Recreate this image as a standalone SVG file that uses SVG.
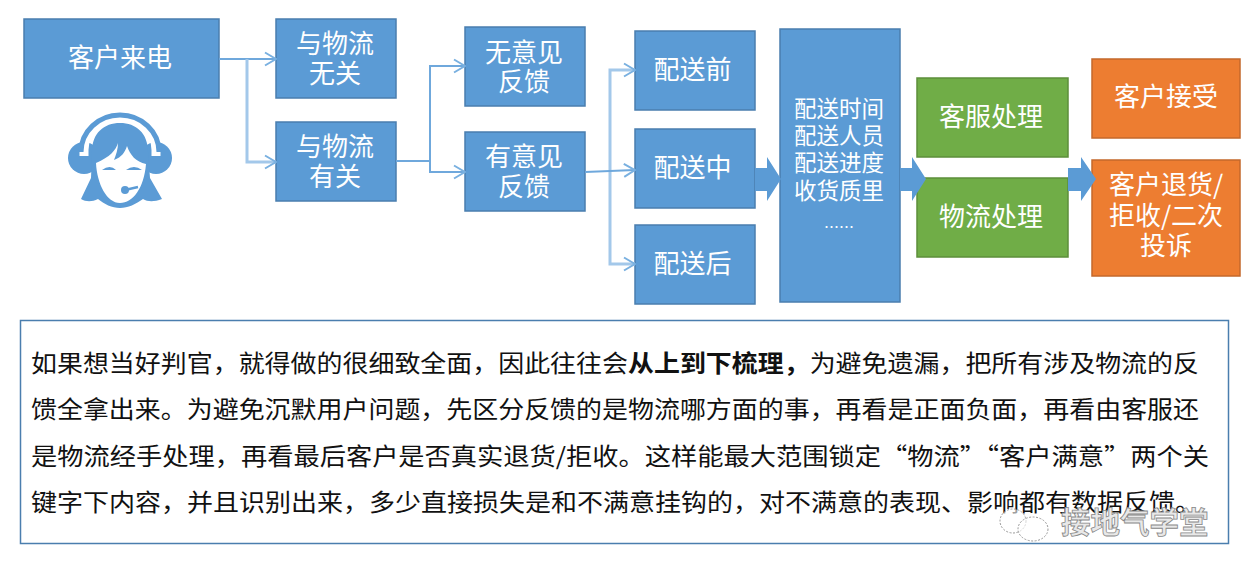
<svg xmlns="http://www.w3.org/2000/svg" width="1246" height="561" viewBox="0 0 1246 561">
<style>
text{font-family:"Noto Sans CJK SC","Liberation Sans",sans-serif}
.b{fill:#5b9bd5;stroke:#4a7eae;stroke-width:1.5}
.g{fill:#70ad47;stroke:#5c8f3a;stroke-width:1.5}
.o{fill:#ed7d31;stroke:#c4682b;stroke-width:1.5}
.n text{fill:#fff;font-size:26px;text-anchor:middle}
.n .s{font-size:22.5px}
.c{fill:none;stroke:#6fa8dc;stroke-width:2}
.l{fill:none;stroke:#a3c8ea;stroke-width:3}
.f{fill:#5b9bd5}
.p text{font-size:24px;fill:#111}
</style>
<defs>
<marker id="a" markerUnits="userSpaceOnUse" markerWidth="14" markerHeight="16" refX="13" refY="8" orient="auto"><path d="M2 1.500L13 8L2 14.500" fill="none" stroke="#79b0e0" stroke-width="2"/></marker>
</defs>
<rect width="1246" height="561" fill="#fff"/>
<g id="n1" class="n"><rect class="b" x="24" y="19" width="195" height="79"/><text x="120" y="67">客户来电</text></g>
<g id="agent">
<ellipse cx="84" cy="158" rx="16" ry="16" class="f"/><ellipse cx="156" cy="158" rx="16" ry="16" class="f"/>
<path d="M84 156V150A36 33 0 0 1 156 150V156" fill="none" stroke="#fff" stroke-width="9"/>
<path d="M81 152A39 37 0 0 1 159 152" fill="none" stroke="#5b9bd5" stroke-width="5"/>
<path class="f" d="M92 152C92 133 104 123 120 123C136 123 148 133 148 152L150 178L162 199C154 202 148 202 143 199C136 204 128 208 120 208C112 208 104 204 98 199C92 202 86 202 81 199L91 178Z" stroke="#fff" stroke-width="0"/>
<path fill="#fff" d="M118 143C116 150 110 157 96 163C97 184 107 203 120 203C133 203 144 188 146 164C136 162 130 155 127 146C125 152 122 157 114 160C116 155 118 149 118 143Z"/>
<path class="f" d="M102 170Q110 164 116 170ZM126 170Q134 164 142 170Z"/>
<path d="M125 190L138 187" stroke="#5b9bd5" stroke-width="2.500" fill="none"/><circle cx="125" cy="190" r="4" class="f"/>
</g>
<g id="n2" class="n"><rect class="b" x="276" y="19" width="120" height="79"/><text x="335" y="53">与物流<tspan x="335" y="83">无关</tspan></text></g>
<g id="n3" class="n"><rect class="b" x="276" y="122" width="120" height="79"/><text x="335" y="156">与物流<tspan x="335" y="186">有关</tspan></text></g>
<g id="n4" class="n"><rect class="b" x="465" y="27" width="120" height="79"/><text x="524" y="62">无意见<tspan x="524" y="91">反馈</tspan></text></g>
<g id="n5" class="n"><rect class="b" x="465" y="132" width="120" height="79"/><text x="524" y="166">有意见<tspan x="524" y="196">反馈</tspan></text></g>
<g id="n6" class="n"><rect class="b" x="635" y="31" width="120" height="79"/><text x="692.500" y="79">配送前</text></g>
<g id="n7" class="n"><rect class="b" x="635" y="129" width="120" height="79"/><text x="692.500" y="177">配送中</text></g>
<g id="n8" class="n"><rect class="b" x="635" y="225" width="120" height="79"/><text x="692.500" y="273">配送后</text></g>
<g id="n9" class="n"><rect class="b" x="780" y="29" width="120" height="273"/>
<text class="s" x="839" y="117">配送时间<tspan x="839" y="144">配送人员</tspan><tspan x="839" y="171">配送进度</tspan><tspan x="839" y="199">收货质里</tspan><tspan x="839" y="233" style="font-size:15px">……</tspan></text></g>
<g id="n10" class="n"><rect class="g" x="917" y="78" width="151" height="79"/><text x="991" y="126">客服处理</text></g>
<g id="n11" class="n"><rect class="g" x="917" y="178" width="151" height="79"/><text x="991" y="226">物流处理</text></g>
<g id="n12" class="n"><rect class="o" x="1092" y="59" width="148" height="79"/><text x="1166" y="106">客户接受</text></g>
<g id="n13" class="n"><rect class="o" x="1092" y="160" width="148" height="116"/><text x="1166" y="194">客户退货/<tspan x="1166" y="225">拒收/二次</tspan><tspan x="1166" y="255">投诉</tspan></text></g>
<g id="connectors">
<path class="c" d="M219 59H276" marker-end="url(#a)"/>
<path class="l" d="M247 59V162H276" marker-end="url(#a)"/>
<path class="c" d="M396 161H430V66H465" marker-end="url(#a)"/>
<path class="c" d="M430 161V172H465" marker-end="url(#a)"/>
<path class="l" d="M610 171V70H635" marker-end="url(#a)"/>
<path class="l" d="M610 171V264H635" marker-end="url(#a)"/>
<path class="c" d="M585 172L635 170" marker-end="url(#a)"/>
<path class="f" d="M755 168H767V157L781 179L767 201V191H755Z"/>
<path class="f" d="M900 168H912V157L926 179L912 201V191H900Z"/>
<path class="f" d="M1068 168H1081V157L1096 179L1081 201V191H1068Z"/>
</g>
<g id="note" class="p">
<rect x="20.500" y="320.500" width="1208" height="223" fill="#fff" stroke="#4a7eae" stroke-width="1.500"/>
<text x="31" y="372" textLength="1168" lengthAdjust="spacingAndGlyphs">如果想当好判官，就得做的很细致全面，因此往往会<tspan font-weight="700">从上到下梳理，</tspan>为避免遗漏，把所有涉及物流的反</text>
<text x="31" y="418" textLength="1168" lengthAdjust="spacingAndGlyphs">馈全拿出来。为避免沉默用户问题，先区分反馈的是物流哪方面的事，再看是正面负面，再看由客服还</text>
<text x="31" y="465" textLength="1178" lengthAdjust="spacingAndGlyphs">是物流经手处理，再看最后客户是否真实退货/拒收。这样能最大范围锁定“物流”“客户满意”两个关</text>
<text x="31" y="511" textLength="1170" lengthAdjust="spacingAndGlyphs">键字下内容，并且识别出来，多少直接损失是和不满意挂钩的，对不满意的表现、影响都有数据反馈。</text>
</g>
<g id="watermark">
<ellipse cx="1013" cy="521" rx="13" ry="12" fill="#fff" fill-opacity=".6" stroke="#999" stroke-dasharray="2 1.500"/>
<ellipse cx="1033" cy="529" rx="15" ry="12" fill="#fff" fill-opacity=".6" stroke="#999" stroke-dasharray="2 1.500"/>
<text x="1061" y="533" style="font-size:29.500px;font-weight:700" fill="#e8e8e8" stroke="#888" stroke-width=".8">接地气学堂</text>
</g>
</svg>
